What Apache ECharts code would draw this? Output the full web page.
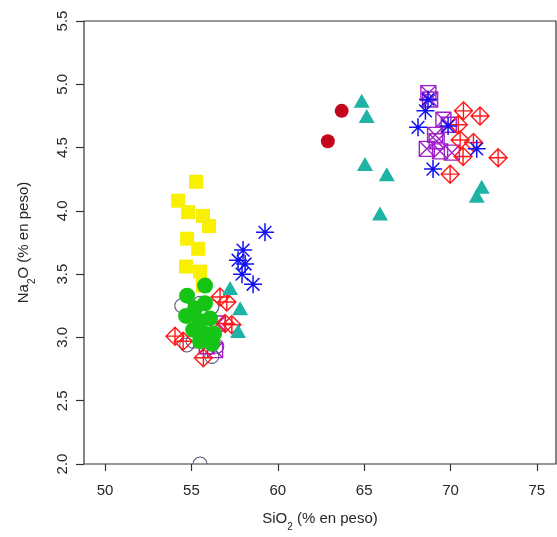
<!DOCTYPE html>
<html>
<head>
<meta charset="utf-8">
<style>
  html, body { margin: 0; padding: 0; background: #fff; }
  #chart { width: 557px; height: 537px; }
</style>
<script src="https://cdn.jsdelivr.net/npm/echarts@6/dist/echarts.min.js"></script>
</head>
<body>
<div id="chart"></div>
<script>
// Tick values
const xTicks = [50, 55, 60, 65, 70, 75];
const yTicks = [2.0, 2.5, 3.0, 3.5, 4.0, 4.5, 5.0, 5.5];

// [SiO2, Na2O] per sample group
const openCircles = [
  [54.44, 3.25], [55.50, 3.27], [56.18, 3.24], [56.47, 2.93],
  [56.18, 2.85], [55.10, 2.97], [54.73, 2.94], [55.50, 2.00]
];
const purpleSquares = [
  [56.54, 3.11], [55.89, 2.93], [56.37, 2.90],
  [68.72, 4.93], [68.82, 4.88], [69.59, 4.72], [69.90, 4.68], [69.11, 4.60],
  [69.20, 4.55], [68.63, 4.49], [69.40, 4.47], [70.08, 4.46]
];
const redDiamonds = [
  [56.66, 3.32], [57.05, 3.28], [57.34, 3.10], [56.95, 3.11],
  [54.05, 3.01], [54.52, 2.97], [55.69, 2.84],
  [70.75, 4.79], [71.71, 4.75], [70.45, 4.68], [70.56, 4.56],
  [71.33, 4.54], [70.73, 4.43], [72.76, 4.42], [69.98, 4.29]
];
const tealTriangles = [
  [57.24, 3.39], [57.82, 3.23], [57.70, 3.05],
  [64.86, 4.87], [65.15, 4.75], [65.05, 4.37], [66.31, 4.29],
  [65.92, 3.98], [71.81, 4.19], [71.52, 4.12]
];
const blueStars = [
  [59.26, 3.83], [57.99, 3.69], [57.70, 3.61], [58.11, 3.58],
  [57.93, 3.50], [58.57, 3.42],
  [68.70, 4.88], [68.55, 4.79], [68.12, 4.66], [69.86, 4.67],
  [71.52, 4.49], [68.99, 4.33]
];
const yellowSquares = [
  [55.27, 4.23], [54.23, 4.08], [54.81, 3.99], [55.67, 3.96],
  [56.02, 3.88], [54.75, 3.78], [55.39, 3.70], [54.69, 3.56],
  [55.50, 3.52], [55.67, 3.41]
];
const greenDots = [
  [55.79, 3.41], [54.75, 3.33], [54.69, 3.17], [55.21, 3.23],
  [55.79, 3.27], [55.50, 3.13], [56.08, 3.15], [55.10, 3.06],
  [55.79, 3.03], [56.31, 3.03], [55.50, 2.97], [56.20, 2.95]
];
const darkRedDots = [
  [63.70, 4.79], [62.90, 4.55]
];

// Line-drawn marker shapes
const STAR = 'path://M0,-10L0,10M-10,0L10,0M-7.07,-7.07L7.07,7.07M-7.07,7.07L7.07,-7.07';
const DIAMOND_PLUS = 'path://M0,-10L10,0L0,10L-10,0ZM0,-10L0,10M-10,0L10,0';
const SQUARE_CROSS = 'path://M-10,-10L10,-10L10,10L-10,10ZM-10,-10L10,10M-10,10L10,-10';

const FONT = 'Liberation Sans, Arial, Helvetica, sans-serif';
const TEXT = '#262626';

function outlined(data, symbol, size, color, z, width) {
  return {
    type: 'scatter', data, symbol, symbolSize: size, z,
    itemStyle: { color: 'rgba(0,0,0,0)', borderColor: color, borderWidth: width || 1.1, opacity: 1 },
    emphasis: { disabled: true }, silent: true, clip: true
  };
}
function filled(data, symbol, size, color, z) {
  return {
    type: 'scatter', data, symbol, symbolSize: size, z,
    itemStyle: { color, opacity: 1 },
    emphasis: { disabled: true }, silent: true, clip: true
  };
}
// Open rings drawn as a custom series so they are cut off at the plot frame
function rings(data, radius, color, z) {
  return {
    type: 'custom', data, z, clip: true, silent: true,
    encode: { x: 0, y: 1 },
    renderItem: (params, api) => {
      const p = api.coord([api.value(0), api.value(1)]);
      return {
        type: 'circle',
        shape: { cx: p[0], cy: p[1], r: radius },
        style: { fill: 'none', stroke: color, lineWidth: 1.1 }
      };
    }
  };
}

const chart = echarts.init(document.getElementById('chart'), null, { renderer: 'canvas' });

const richName = {
  a: { fontSize: 15, lineHeight: 18, color: TEXT, fontFamily: FONT },
  b: { fontSize: 10, lineHeight: 10, color: TEXT, fontFamily: FONT, verticalAlign: 'bottom', padding: [0, 0, -4, 0] }
};

chart.setOption({
  animation: false,
  backgroundColor: '#ffffff',
  grid: {
    left: 84, right: 1, top: 21, bottom: 70,
    show: true, borderColor: '#333', borderWidth: 1.2, backgroundColor: 'transparent'
  },
  xAxis: {
    type: 'value', min: 48.78, max: 76.11,
    axisLine: { show: false },
    splitLine: { show: false },
    axisTick: { show: true, customValues: xTicks, length: 7, lineStyle: { color: '#333', width: 1.2 } },
    axisLabel: {
      customValues: xTicks, margin: 19, color: TEXT, fontFamily: FONT, fontSize: 15,
      formatter: v => String(v)
    },
    name: '{a|SiO}{b|2}{a| (% en peso)}',
    nameLocation: 'middle', nameGap: 46,
    nameTextStyle: { color: TEXT, fontFamily: FONT, rich: richName }
  },
  yAxis: {
    type: 'value', min: 2, max: 5.5, interval: 0.5,
    axisLine: { show: false },
    splitLine: { show: false },
    axisTick: { show: true, length: 8, lineStyle: { color: '#333', width: 1.2 } },
    axisLabel: {
      rotate: 90, margin: 14, color: TEXT, fontFamily: FONT, fontSize: 15,
      formatter: v => v.toFixed(1)
    },
    name: '{a|Na}{b|2}{a|O (% en peso)}',
    nameLocation: 'middle', nameGap: 51,
    nameTextStyle: { color: TEXT, fontFamily: FONT, rich: richName }
  },
  series: [
    rings(openCircles, 7, '#5e5476', 2),
    outlined(purpleSquares, SQUARE_CROSS, 15, '#a020c8', 3, 1.4),
    outlined(redDiamonds, DIAMOND_PLUS, 18, '#ff1a1a', 4, 1.4),
    filled(tealTriangles, 'triangle', [16, 14], '#1fb3a6', 5),
    outlined(blueStars, STAR, 18, '#1010f0', 6, 1.5),
    filled(yellowSquares, 'rect', 14, '#f8f000', 7),
    filled(greenDots, 'circle', 16, '#16c416', 8),
    filled(darkRedDots, 'circle', 14, '#c4061c', 9)
  ]
});
</script>
</body>
</html>
